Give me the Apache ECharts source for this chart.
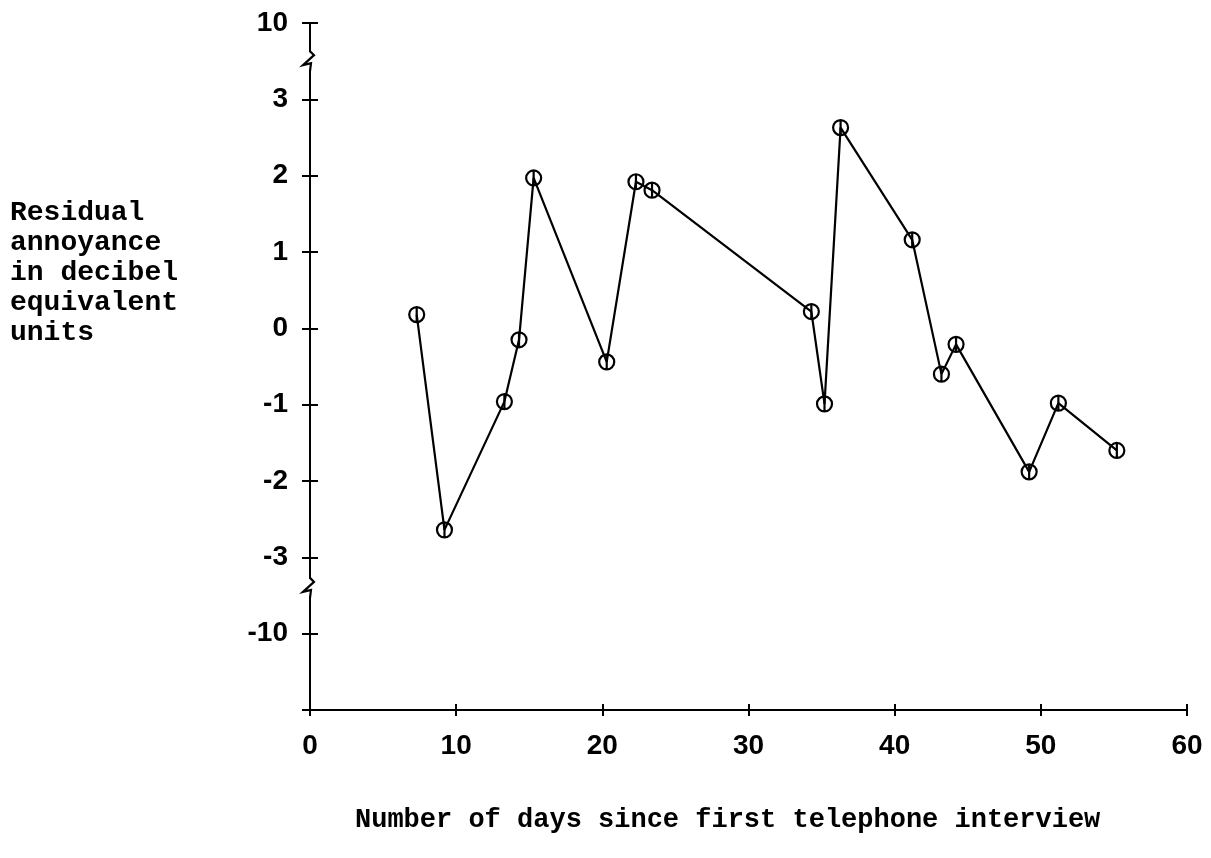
<!DOCTYPE html>
<html><head><meta charset="utf-8">
<script src="https://cdn.jsdelivr.net/npm/echarts@6/dist/echarts.min.js"></script>
<style>html,body{margin:0;padding:0;background:#fff}#c{width:1211px;height:858px}</style>
</head><body><div id="c"></div>
<script>
// ---- data ----
const days = [7.3, 9.2, 13.3, 14.3, 15.3, 20.3, 22.3, 23.4, 34.3, 35.2, 36.3, 41.2, 43.2, 44.2, 49.2, 51.2, 55.2];
const residuals = [0.18, -2.64, -0.96, -0.15, 1.97, -0.44, 1.92, 1.81, 0.22, -0.99, 2.63, 1.16, -0.60, -0.21, -1.88, -0.98, -1.60];
// broken y axis: plotted positions -4 and 4 stand for -10 and 10
const yPositions = [-4, -3, -2, -1, 0, 1, 2, 3, 4];
const yTickLabels = ['-10', '-3', '-2', '-1', '0', '1', '2', '3', '10'];
const yBreaks = [3.5, -3.4];
const xTicks = [0, 10, 20, 30, 40, 50, 60];
const yTitle = ['Residual', 'annoyance', 'in decibel', 'equivalent', 'units'];
const xTitle = 'Number of days since first telephone interview';

const chart = echarts.init(document.getElementById('c'), null, {renderer: 'canvas'});
const black = '#000';
const tickFont = {fontSize: 28, fontWeight: 'bold', color: black, fontFamily: 'Liberation Sans'};
const monoFont = {fontSize: 27, fontWeight: 'bold', fill: black, fontFamily: 'Liberation Mono'};
const yTitleFont = {fontSize: 28, fontWeight: 'bold', fill: black, fontFamily: 'Liberation Mono'};

const yLabel = v => {
  const i = yPositions.indexOf(Math.round(v));
  return i >= 0 ? yTickLabels[i] : '';
};

const option = {
  animation: false,
  backgroundColor: '#fff',
  grid: {left: 310, right: 24, top: 23, bottom: 148},
  xAxis: [
    {type: 'value', min: xTicks[0], max: xTicks[xTicks.length - 1], interval: 10, position: 'bottom',
     axisLine: {onZero: false, lineStyle: {color: black, width: 2}},
     axisTick: {length: 6, lineStyle: {color: black, width: 2}},
     axisLabel: Object.assign({margin: 22}, tickFont),
     splitLine: {show: false}},
    {type: 'value', min: xTicks[0], max: xTicks[xTicks.length - 1], interval: 10, position: 'bottom',
     axisLine: {show: false, onZero: false},
     axisTick: {inside: true, length: 6, lineStyle: {color: black, width: 2}},
     axisLabel: {show: false}, splitLine: {show: false}}
  ],
  yAxis: [
    {type: 'value', min: -5, max: 4, interval: 1, position: 'left',
     axisLine: {onZero: false, lineStyle: {color: black, width: 2}},
     axisTick: {length: 8, lineStyle: {color: black, width: 2}},
     axisLabel: Object.assign({margin: 22, formatter: yLabel}, tickFont),
     splitLine: {show: false}},
    {type: 'value', min: -5, max: 4, interval: 1, position: 'left',
     axisLine: {show: false, onZero: false},
     axisTick: {inside: true, length: 8, lineStyle: {color: black, width: 2}},
     axisLabel: {show: false}, splitLine: {show: false}}
  ],
  series: [{
    type: 'line',
    data: days.map((d, i) => [d, residuals[i]]),
    symbol: 'path://M0,-10A10,10 0 1,1 0,10A10,10 0 1,1 0,-10Z M0,-10L0,10',
    symbolSize: 15,
    lineStyle: {color: black, width: 2.2},
    itemStyle: {color: 'rgba(0,0,0,0)', borderColor: black, borderWidth: 2.2},
    z: 3
  }]
};
chart.setOption(option);

// titles and axis-break marks positioned from the chart's own scales
const graphics = [];
yTitle.forEach((t, i) => {
  graphics.push({type: 'text', left: 10, top: 199 + i * 30,
    style: Object.assign({text: t}, yTitleFont)});
});
graphics.push({type: 'text', left: 355, top: 807, style: Object.assign({text: xTitle}, monoFont)});
yBreaks.forEach(b => {
  const [px, py] = chart.convertToPixel({xAxisIndex: 0, yAxisIndex: 0}, [0, b]);
  graphics.push({type: 'rect', shape: {x: px - 4, y: py - 9, width: 8, height: 18}, style: {fill: '#fff'}, z: 100});
  graphics.push({type: 'polyline', shape: {points: [[px, py - 10], [px + 4, py - 6], [px - 7, py + 4], [px + 1, py + 2], [px, py + 10]]},
    style: {stroke: black, lineWidth: 2.2, fill: null}, z: 101});
});
chart.setOption({graphic: graphics});
</script>
</body></html>
